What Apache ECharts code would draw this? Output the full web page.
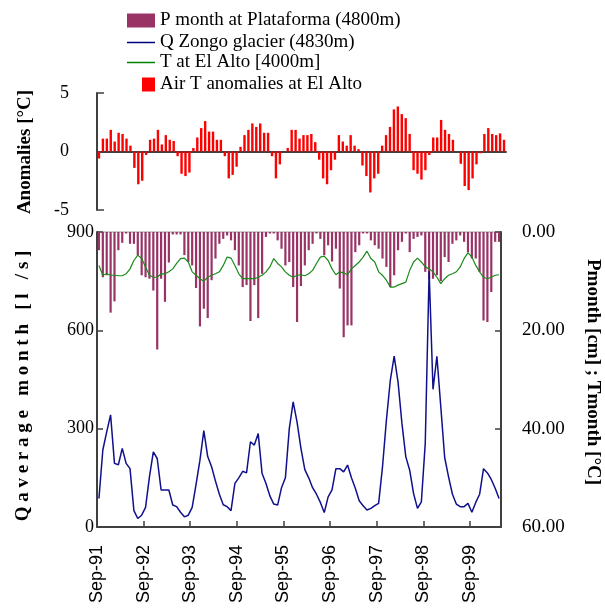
<!DOCTYPE html>
<html>
<head>
<meta charset="utf-8">
<script src="https://cdn.jsdelivr.net/npm/echarts@6/dist/echarts.min.js"></script>
<style>
  html, body { margin: 0; padding: 0; background: #fff; }
  #chart { width: 605px; height: 615px; }
</style>
</head>
<body>
<div id="chart"></div>
<script>
// Monthly series, Sep-1991 .. Apr-2000 (104 months)
const yearLabels = ['Sep-91', 'Sep-92', 'Sep-93', 'Sep-94', 'Sep-95', 'Sep-96', 'Sep-97', 'Sep-98', 'Sep-99'];

// Air temperature anomalies at El Alto [°C]
const airTAnomaly = [
  -0.6, 1.1, 1.1, 1.85, 0.85, 1.6, 1.5, 1.1, 0.5, -1.4,
  -2.8, -2.5, -0.3, 1.0, 1.1, 1.85, 0.6, 1.4, 1.0, 0.9,
  -0.4, -1.9, -2.1, -1.8, 0.3, 1.2, 2.0, 2.6, 1.7, 1.7,
  1.0, 1.0, -0.4, -2.3, -2.0, -1.3, 0.4, 1.4, 1.85, 2.4,
  2.1, 2.4, 1.6, 1.6, -0.4, -2.3, -1.1, 0, 0.3, 1.85,
  1.85, 1.1, 1.4, 1.4, 1.5, 0.8, -0.7, -2.3, -2.8, -1.6,
  -0.7, 1.4, 0.85, 0.5, 1.4, 0.5, 0.2, -1.2, -2.1, -3.5,
  -2.3, -1.9, 0.5, 1.4, 2.1, 3.6, 3.85, 3.2, 2.85, 1.5,
  -1.6, -1.9, -2.4, -1.6, -0.3, 1.2, 1.2, 2.7, 1.85, 1.5,
  1.0, 0, -1.05, -2.95, -3.3, -2.3, -1.1, -0.15, 1.5, 2.0,
  1.5, 1.4, 1.55, 1.0
];

// Monthly precipitation at Plataforma (4800 m) [cm]
const pMonth = [
  3.7, 9.2, 8.8, 16.4, 14.1, 3.7, 2.2, 0.3, 2.4, 2.4,
  4.7, 8.8, 9.2, 9.5, 11.9, 23.9, 9.5, 14.2, 6.2, 0.5,
  0.5, 0.5, 4.7, 6.1, 6.8, 11.4, 19.2, 15.6, 17.5, 9.8,
  5.4, 2.4, 1.4, 0.7, 1.7, 3.7, 6.8, 11.2, 10.8, 18.1,
  10.8, 17.5, 8.5, 1.0, 0.3, 0.3, 1.7, 3.4, 6.8, 6.1,
  11.2, 18.3, 11.0, 6.8, 3.7, 2.4, 0.3, 1.4, 4.7, 2.7,
  6.0, 3.4, 11.5, 21.4, 19.0, 19.0, 4.1, 2.7, 0.3, 0.3,
  1.7, 2.7, 3.4, 5.4, 7.1, 11.2, 8.8, 3.7, 2.0, 0.3,
  4.1, 1.4, 1.0, 0.7, 8.1, 9.5, 9.5, 8.8, 10.0, 5.1,
  6.1, 2.4, 1.7, 0.7, 2.0, 4.1, 5.4, 5.4, 8.1, 18.0,
  18.3, 12.2, 2.0, 2.0
];

// Monthly mean discharge of the Zongo glacier (4830 m) [l/s]
const qZongo = [
  87, 235, 290, 342, 194, 190, 240, 194, 178, 50,
  26, 36, 60, 153, 229, 209, 113, 113, 113, 67,
  62, 45, 31, 36, 60, 130, 204, 294, 215, 184,
  140, 100, 68, 62, 50, 133, 150, 170, 165, 260,
  250, 285, 163, 133, 95, 70, 67, 120, 150, 300,
  382, 320, 240, 175, 150, 120, 100, 75, 44, 92,
  113, 178, 178, 168, 189, 150, 118, 80, 65, 52,
  57, 65, 72, 184, 326, 447, 521, 442, 316, 214,
  173, 102, 57, 77, 255, 780, 420, 521, 367, 212,
  153, 100, 70, 62, 62, 72, 45, 75, 100, 178,
  165, 145, 118, 87
];

// Monthly air temperature at El Alto (4000 m) [°C]
const tElAlto = [
  6.8, 8.8, 8.5, 8.8, 8.8, 8.9, 8.9, 8.5, 7.5, 5.8,
  4.7, 5.4, 7.1, 8.8, 9.2, 9.2, 8.5, 8.5, 8.1, 7.5,
  6.4, 5.4, 5.3, 6.1, 8.1, 8.8, 9.5, 10.0, 9.2, 8.8,
  8.5, 8.1, 6.8, 5.1, 5.3, 6.8, 8.5, 9.5, 9.5, 9.5,
  9.5, 9.2, 8.8, 8.1, 7.1, 5.4, 6.4, 7.1, 8.1, 8.8,
  9.2, 8.8, 8.7, 8.9, 8.5, 7.8, 6.4, 5.1, 4.9, 5.8,
  7.5, 8.7, 8.1, 8.3, 8.7, 7.5, 6.8, 6.1, 5.1, 3.9,
  5.4, 6.1, 8.1, 8.8, 9.8, 11.2, 11.2, 10.8, 10.5, 10.2,
  7.8, 6.1, 5.3, 6.1, 7.1, 7.5, 8.1, 9.2, 10.5, 9.5,
  8.8, 8.5, 8.1, 7.1, 5.4, 4.2, 5.1, 6.8, 8.1, 9.2,
  9.5, 9.2, 8.8, 8.7
];

// place each monthly value at the middle of its month
const atMonth = arr => arr.map((v, i) => [i + 0.5, v]);

// widen a title by putting a narrow space between its letters
const spaced = s => Array.from(s).join('\u2005');

const serif = '"Liberation Serif", "Times New Roman", serif';
const sans = '"Liberation Sans", Arial, sans-serif';
const axisDark = '#404040';

const chart = echarts.init(document.getElementById('chart'), null, { renderer: 'canvas' });

const legendText = { color: '#000', fontFamily: serif, fontSize: 19 };

chart.setOption({
  animation: false,
  backgroundColor: '#fff',
  legend: [
    { data: [{ name: 'P month at Plataforma (4800m)', icon: 'rect' }], left: 127, top: 11, padding: 0,
      itemWidth: 28, itemHeight: 14, itemGap: 5, textStyle: legendText, selectedMode: false },
    { data: [{ name: 'Q Zongo glacier (4830m)', icon: 'rect' }], left: 127, top: 33, padding: 0,
      itemWidth: 28, itemHeight: 1.5, textStyle: legendText, selectedMode: false },
    { data: [{ name: 'T at El Alto [4000m]', icon: 'rect' }], left: 127, top: 53, padding: 0,
      itemWidth: 28, itemHeight: 1.5, textStyle: legendText, selectedMode: false },
    { data: [{ name: 'Air T anomalies at El Alto', icon: 'rect' }], left: 142, top: 75, padding: 0,
      itemWidth: 13, itemHeight: 14, textStyle: legendText, selectedMode: false }
  ],
  grid: [
    { left: 97, top: 93, width: 409, height: 117 },
    { left: 97, top: 232, width: 404, height: 295, show: true, borderColor: '#9a9a9a', borderWidth: 1 }
  ],
  xAxis: [
    {
      gridIndex: 0, type: 'value', min: 0, max: 104,
      axisLine: { onZero: true, lineStyle: { color: axisDark, width: 2 } },
      axisTick: { show: false }, axisLabel: { show: false }, splitLine: { show: false }
    },
    {
      gridIndex: 1, type: 'value', min: 0, max: 104, interval: 12,
      axisLine: { onZero: false, lineStyle: { color: axisDark, width: 2 } },
      axisTick: { inside: true, length: 6, lineStyle: { color: axisDark, width: 1.5 } },
      axisLabel: {
        rotate: 90, margin: 18, color: '#000', fontFamily: sans, fontSize: 18,
        showMaxLabel: false,
        formatter: v => (v % 12 === 0 && yearLabels[v / 12]) ? yearLabels[v / 12] : ''
      },
      splitLine: { show: false }
    }
  ],
  yAxis: [
    {
      gridIndex: 0, type: 'value', min: -5, max: 5, interval: 5,
      axisLine: { show: true, lineStyle: { color: axisDark, width: 2 } },
      axisTick: { inside: true, length: 7, lineStyle: { color: axisDark, width: 1.5 } },
      axisLabel: { margin: 28, color: '#000', fontFamily: serif, fontSize: 18 },
      splitLine: { show: false }
    },
    {
      gridIndex: 1, type: 'value', min: 0, max: 900, interval: 300,
      axisLine: { show: true, lineStyle: { color: axisDark, width: 2 } },
      axisTick: { inside: true, length: 6, lineStyle: { color: axisDark, width: 1.5 } },
      axisLabel: { margin: 3, color: '#000', fontFamily: serif, fontSize: 18 },
      splitLine: { show: false }
    },
    {
      gridIndex: 1, type: 'value', position: 'right', min: 0, max: 60, interval: 20, inverse: true,
      axisLine: { show: true, lineStyle: { color: axisDark, width: 2 } },
      axisTick: { inside: true, length: 6, lineStyle: { color: axisDark, width: 1.5 } },
      axisLabel: { margin: 21, color: '#000', fontFamily: serif, fontSize: 19, formatter: v => v.toFixed(2) },
      splitLine: { show: false }
    }
  ],
  series: [
    {
      name: 'Air T anomalies at El Alto', type: 'bar', xAxisIndex: 0, yAxisIndex: 0,
      data: atMonth(airTAnomaly), barWidth: 2.4, color: '#ff0000',
      itemStyle: { color: '#ff0000' }
    },
    {
      name: 'P month at Plataforma (4800m)', type: 'bar', xAxisIndex: 1, yAxisIndex: 2,
      data: atMonth(pMonth), barWidth: 2.2, color: '#993366',
      itemStyle: { color: '#993366' }, z: 2
    },
    {
      name: 'T at El Alto [4000m]', type: 'line', xAxisIndex: 1, yAxisIndex: 2,
      data: atMonth(tElAlto), showSymbol: false, color: '#008000',
      lineStyle: { color: '#1a8a1a', width: 1.2 }, z: 3
    },
    {
      name: 'Q Zongo glacier (4830m)', type: 'line', xAxisIndex: 1, yAxisIndex: 1,
      data: atMonth(qZongo), showSymbol: false, color: '#000080',
      lineStyle: { color: '#10108c', width: 1.5 }, z: 4
    }
  ],
  graphic: [
    {
      type: 'text', x: 25, y: 152, rotation: Math.PI / 2,
      style: { text: 'Anomalies [°C]', fill: '#000', font: 'bold 19px ' + serif, align: 'center', verticalAlign: 'middle' }
    },
    {
      type: 'text', x: 23, y: 386, rotation: Math.PI / 2,
      style: { text: spaced('Qaverage month [l /s]'), fill: '#000', font: 'bold 19px ' + serif, align: 'center', verticalAlign: 'middle' }
    },
    {
      type: 'text', x: 593, y: 372, rotation: -Math.PI / 2,
      style: { text: 'Pmonth [cm] ; Tmonth [°C]', fill: '#000', font: 'bold 19px ' + serif, align: 'center', verticalAlign: 'middle' }
    }
  ]
});
</script>
</body>
</html>
